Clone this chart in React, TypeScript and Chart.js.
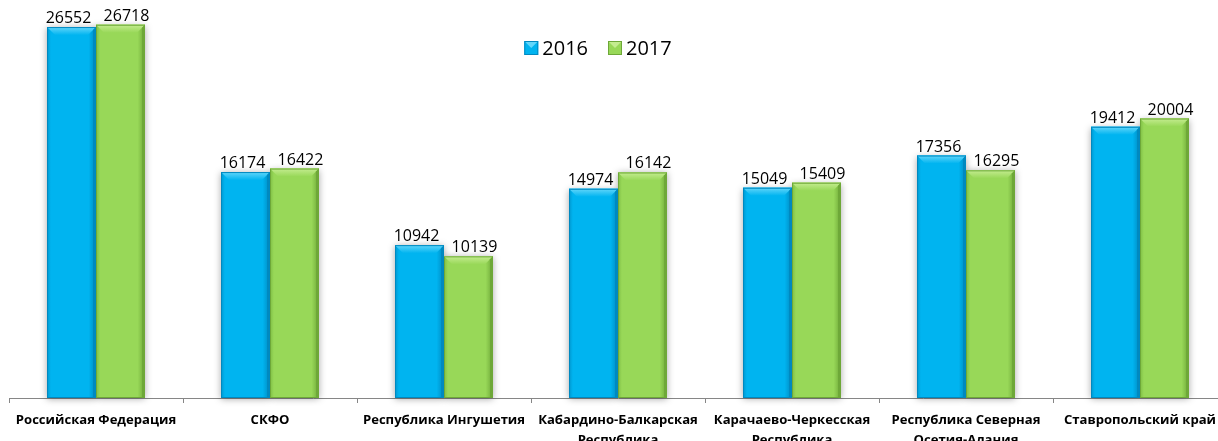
import React, { useEffect, useRef } from "react";
import { Chart, registerables } from "chart.js";

Chart.register(...registerables);

const categories: string[][] = [
  ["Российская Федерация"],
  ["СКФО"],
  ["Республика Ингушетия"],
  ["Кабардино-Балкарская", "Республика"],
  ["Карачаево-Черкесская", "Республика"],
  ["Республика Северная", "Осетия-Алания"],
  ["Ставропольский край"],
];
const seriesNames = ["2016", "2017"];
const values2016 = [26552, 16174, 10942, 14974, 15049, 17356, 19412];
const values2017 = [26718, 16422, 10139, 16142, 15409, 16295, 20004];

const BLUE = { base: "#00B4F0", light: "#62D6FA", dark: "#0089C0", edge: "#0098D0" };
const GREEN = { base: "#98D858", light: "#C4EC90", dark: "#6EA838", edge: "#7FBE45" };
const palettes = [BLUE, GREEN];
const labelShift = [-3, 6];

const bevelPlugin = {
  id: "bevel",
  beforeDatasetsDraw(chart: any) {
    const ctx = chart.ctx;
    ctx.save();
    chart.data.datasets.forEach((_: any, di: number) => {
      const meta = chart.getDatasetMeta(di);
      meta.data.forEach((bar: any) => {
        const x0 = bar.x - bar.width / 2;
        ctx.shadowColor = "rgba(0,0,0,0.35)";
        ctx.shadowBlur = 7;
        ctx.shadowOffsetX = 0;
        ctx.shadowOffsetY = 1;
        ctx.fillStyle = palettes[di].base;
        ctx.fillRect(x0, bar.y, bar.width, bar.base - bar.y);
      });
    });
    ctx.restore();
  },
  afterDatasetsDraw(chart: any) {
    const ctx = chart.ctx;
    ctx.save();
    chart.data.datasets.forEach((_: any, di: number) => {
      const p = palettes[di];
      const meta = chart.getDatasetMeta(di);
      meta.data.forEach((bar: any) => {
        const x0 = bar.x - bar.width / 2;
        const x1 = bar.x + bar.width / 2;
        const y0 = bar.y;
        const y1 = bar.base;
        const b = 8;
        const g = ctx.createLinearGradient(x0, 0, x1, 0);
        g.addColorStop(0, p.edge);
        g.addColorStop(0.08, p.base);
        g.addColorStop(0.85, p.base);
        g.addColorStop(1, p.dark);
        ctx.fillStyle = g;
        ctx.fillRect(x0, y0, x1 - x0, y1 - y0);
        ctx.beginPath();
        ctx.moveTo(x0, y0);
        ctx.lineTo(x1, y0);
        ctx.lineTo(x1 - b, y0 + b);
        ctx.lineTo(x0 + b, y0 + b);
        ctx.closePath();
        const tg = ctx.createLinearGradient(0, y0, 0, y0 + b);
        tg.addColorStop(0, p.light);
        tg.addColorStop(1, p.base);
        ctx.fillStyle = tg;
        ctx.fill();
        ctx.beginPath();
        ctx.moveTo(x1, y0);
        ctx.lineTo(x1, y1);
        ctx.lineTo(x1 - 3, y1);
        ctx.lineTo(x1 - 3, y0 + 3);
        ctx.closePath();
        ctx.fillStyle = p.dark;
        ctx.fill();
        ctx.strokeStyle = p.dark;
        ctx.lineWidth = 1;
        ctx.strokeRect(x0 + 0.5, y0 + 0.5, x1 - x0 - 1, y1 - y0 - 1);
      });
    });
    ctx.fillStyle = "#000";
    ctx.font = "16px 'Open Sans'";
    ctx.textAlign = "center";
    ctx.textBaseline = "alphabetic";
    chart.data.datasets.forEach((ds: any, di: number) => {
      const meta = chart.getDatasetMeta(di);
      meta.data.forEach((bar: any, i: number) => {
        ctx.fillText(String(ds.data[i]), bar.x + labelShift[di], bar.y - 4);
      });
    });
    ctx.restore();
  },
  afterDraw(chart: any) {
    const ctx = chart.ctx;
    const ca = chart.chartArea;
    ctx.save();
    ctx.font = "20px 'Open Sans'";
    ctx.textBaseline = "middle";
    ctx.textAlign = "left";
    const box = 14;
    const gap = 4;
    const itemGap = 20;
    const widths = seriesNames.map((s) => box + gap + ctx.measureText(s).width);
    const total = widths.reduce((a, b) => a + b, 0) + itemGap * (seriesNames.length - 1);
    let x = (ca.left + ca.right) / 2 - 20 - total / 2;
    const cy = 48;
    seriesNames.forEach((s, i) => {
      const p = palettes[i];
      const bx = x, by = cy - box / 2;
      ctx.fillStyle = p.base;
      ctx.fillRect(bx, by, box, box);
      ctx.beginPath();
      ctx.moveTo(bx, by);
      ctx.lineTo(bx + box, by);
      ctx.lineTo(bx + box / 2, by + box / 2);
      ctx.closePath();
      ctx.fillStyle = p.light;
      ctx.fill();
      ctx.strokeStyle = p.dark;
      ctx.strokeRect(bx + 0.5, by + 0.5, box - 1, box - 1);
      ctx.fillStyle = "#000";
      ctx.fillText(s, bx + box + gap, cy + 1);
      x += widths[i] + itemGap;
    });
    ctx.restore();
  },
};

export default function App() {
  const ref = useRef<HTMLCanvasElement>(null);
  useEffect(() => {
    document.body.style.margin = "0";
    const chart = new Chart(ref.current!, {
      type: "bar",
      data: {
        labels: categories,
        datasets: [
          { label: seriesNames[0], data: values2016, backgroundColor: BLUE.base },
          { label: seriesNames[1], data: values2017, backgroundColor: GREEN.base },
        ],
      },
      options: {
        responsive: false,
        animation: false,
        devicePixelRatio: 1,
        layout: { padding: { left: 9, right: 13, top: 0, bottom: 0 } },
        datasets: { bar: { categoryPercentage: 0.563, barPercentage: 1 } },
        plugins: { legend: { display: false }, tooltip: { enabled: false } },
        scales: {
          x: {
            offset: true,
            grid: { display: true, drawOnChartArea: false, tickLength: 5, color: "#868686", offset: true },
            border: { display: true, color: "#868686", width: 1 },
            ticks: {
              color: "#000",
              font: { family: "'Open Sans'", size: 13.1, weight: "bold", lineHeight: 1.52 },
              maxRotation: 0,
              autoSkip: false,
              padding: 7,
            },
            afterFit: (scale: any) => {
              scale.height = 43;
            },
          },
          y: { display: false, min: 0, max: 28490 },
        },
      },
      plugins: [bevelPlugin],
    } as any);
    return () => chart.destroy();
  }, []);
  return (
    <div style={{ width: 1218, height: 441, overflow: "hidden", position: "relative" }}>
      <canvas ref={ref} width={1240} height={441} style={{ display: "block", width: 1240, height: 441 }} />
    </div>
  );
}
